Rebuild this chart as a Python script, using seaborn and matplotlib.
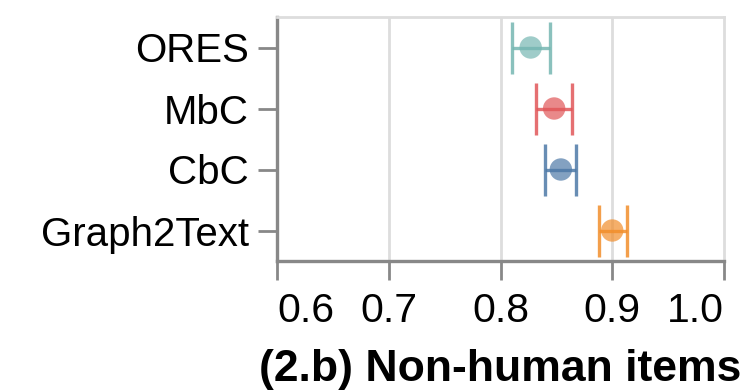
import matplotlib
matplotlib.use("Agg")
import matplotlib.pyplot as plt
import seaborn as sns
import numpy as np
import pandas as pd

models = ["ORES", "MbC", "CbC", "Graph2Text"]
means = [0.827, 0.848, 0.854, 0.900]
lows = [0.810, 0.832, 0.840, 0.888]
highs = [0.844, 0.864, 0.868, 0.913]
colors = ["#76b7b2", "#e15759", "#4e79a7", "#f28e2b"]
xticks = [0.6, 0.7, 0.8, 0.9, 1.0]
title = "(2.b) Non-human items"

sns.set_theme(style="white")
plt.rcParams["font.family"] = ["Liberation Sans", "DejaVu Sans"]

df = pd.DataFrame({"model": models, "mean": means, "low": lows, "high": highs,
                   "pos": np.arange(len(models))})

fig = plt.figure(figsize=(7.5, 3.92), dpi=100)
ax = fig.add_axes([277/750, 1-261/392, (724-277)/750, (261-17)/392])

for xv in xticks[1:-1]:
    ax.axvline(xv, color="#dddddd", lw=2, zorder=0)

for i, r in df.iterrows():
    ax.errorbar(r["mean"], r["pos"], xerr=[[r["mean"]-r["low"]], [r["high"]-r["mean"]]],
                fmt="none", ecolor=colors[i], elinewidth=2.4, capsize=19, capthick=2.4,
                alpha=0.85, zorder=2)

sns.scatterplot(data=df, x="mean", y="pos", hue="model", palette=colors, s=260,
                alpha=0.7, edgecolor="none", legend=False, ax=ax, zorder=3)

ax.set_xlim(0.6, 1.0)
ax.set_ylim(3.5, -0.5)
ax.set_yticks(df["pos"])
ax.set_yticklabels(models)
ax.set_xticks(xticks)
ax.set_xticklabels([f"{v:.1f}" for v in xticks])
ax.set_xlabel("")
ax.set_ylabel("")

for side in ["top", "right"]:
    ax.spines[side].set_color("#dddddd")
    ax.spines[side].set_linewidth(2)
for side in ["left", "bottom"]:
    ax.spines[side].set_color("#888888")
    ax.spines[side].set_linewidth(2.4)

ax.tick_params(axis="both", which="both", length=14, width=2, color="#888888",
               labelcolor="black", direction="out")
ax.tick_params(axis="x", pad=8, bottom=True, labelsize=29.5)
ax.tick_params(axis="y", pad=6, left=True, labelsize=29)

xl = ax.get_xticklabels()
xl[0].set_ha("left")
xl[-1].set_ha("right")

fig.text(500/750, 1-370/392, title, ha="center", va="center", fontsize=32,
         fontweight="bold", color="black")

fig.savefig("out.png", dpi=100)
